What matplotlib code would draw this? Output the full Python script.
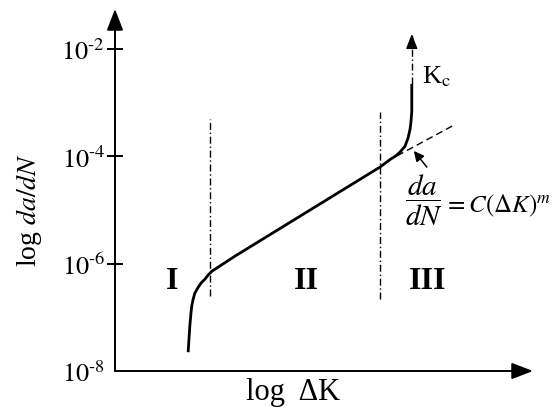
import matplotlib
matplotlib.use("Agg")
import matplotlib.pyplot as plt

plt.rcParams["font.family"] = ["Liberation Serif", "DejaVu Serif"]
plt.rcParams["mathtext.fontset"] = "stix"

# schematic crack growth curve: log(dK) vs log10(da/dN)
log_dk = [1.75, 1.77, 1.79, 1.82, 1.84, 1.87, 1.91, 1.99, 2.06, 2.15, 2.23, 2.32, 2.87,
          6.34, 6.58, 6.72, 6.82, 6.94, 7.01, 7.06, 7.08, 7.10, 7.10]
log_dadn = [-7.65, -7.40, -7.16, -6.90, -6.77, -6.66, -6.55, -6.44, -6.36, -6.29, -6.21, -6.14, -5.86,
            -4.20, -4.06, -3.99, -3.92, -3.81, -3.66, -3.49, -3.36, -3.17, -2.65]

# Paris law extension past region II
paris_dk = [6.75, 8.13]
paris_dadn = [-3.99, -3.41]

# unstable growth towards Kc
kc_dk = [7.10, 7.10]
kc_dadn = [-2.65, -1.72]

# region boundaries
bound_dk = [2.27, 6.34]
bound_lo = [-6.60, -6.66]
bound_hi = [-3.31, -3.17]

regions = ["I", "II", "III"]
region_dk = [1.36, 4.59, 7.49]
region_dadn = -6.32

yticks = [-2, -4, -6, -8]
ytick_labels = [r"$10^{\text{-}%d}$" % -t for t in yticks]

fig = plt.figure(figsize=(5.54, 4.10), dpi=100)
ax = fig.add_axes([115 / 554, 38 / 410, 418 / 554, 362 / 410])
ax.set_xlim(0, 10)
ax.set_ylim(-8, -1.255)
for s in ax.spines.values():
    s.set_visible(False)

# axis lines with arrow heads
arrow_kw = dict(arrowstyle="-|>,head_length=1.3,head_width=0.5", mutation_scale=10,
                lw=1.4, color="black", shrinkA=0, shrinkB=0)
ax.annotate("", xy=(0, 1), xytext=(0, 0), xycoords="axes fraction", arrowprops=arrow_kw)
ax.annotate("", xy=(1, 0), xytext=(0, 0), xycoords="axes fraction", arrowprops=arrow_kw)

ax.set_xticks([])
ax.set_yticks(yticks)
ax.set_yticklabels(ytick_labels, fontsize=19)
ax.tick_params(axis="y", direction="inout", length=12, width=1.4, pad=1)
ax.yaxis.get_major_ticks()[-1].tick1line.set_visible(False)

ax.set_ylabel("log $da/dN$", fontsize=20)
ax.yaxis.set_label_coords(-0.206, 0.4475)
ax.yaxis.label.set_verticalalignment("center")
ax.set_xlabel("log  \u0394K", fontsize=22)
ax.xaxis.set_label_coords(0.426, -0.058)
ax.xaxis.label.set_verticalalignment("center")

ax.plot(log_dk, log_dadn, color="black", lw=2.0, solid_capstyle="butt",
        solid_joinstyle="round", clip_on=False)
ax.plot(paris_dk, paris_dadn, color="black", lw=1.0, ls=(0, (5, 3)))
ax.plot(kc_dk, kc_dadn, color="black", lw=1.0, ls=(0, (5, 2, 1, 2)))
ax.annotate("", xy=(kc_dk[1], kc_dadn[1]), xytext=(kc_dk[1], kc_dadn[1] - 0.25),
            arrowprops=dict(arrowstyle="-|>,head_length=0.9,head_width=0.35",
                            mutation_scale=10, lw=1.0, color="black",
                            shrinkA=0, shrinkB=0))

for x, lo, hi in zip(bound_dk, bound_lo, bound_hi):
    ax.plot([x, x], [lo, hi], color="black", lw=1.0, ls=(0, (5, 2, 1, 2)))

for name, x in zip(regions, region_dk):
    ax.text(x, region_dadn, name, fontsize=23, fontweight="bold", ha="center", va="center")

ax.text(7.34, -2.50, r"K$_\mathrm{c}$", fontsize=19, ha="left", va="center")

# arrow pointing at the Paris line, and the law itself
ax.annotate("", xy=(7.15, -3.90), xytext=(7.46, -4.20),
            arrowprops=dict(arrowstyle="-|>,head_length=0.6,head_width=0.3",
                            mutation_scale=10, lw=1.1, color="black",
                            shrinkA=0, shrinkB=0))
ax.text(7.40, -4.80, r"$\dfrac{da}{dN}$", fontsize=21, ha="center", va="center")
ax.text(7.86, -5.02, r"$=C\left(\Delta K\right)^m$", fontsize=18, ha="left", va="baseline")

fig.savefig("out.png", dpi=100)
